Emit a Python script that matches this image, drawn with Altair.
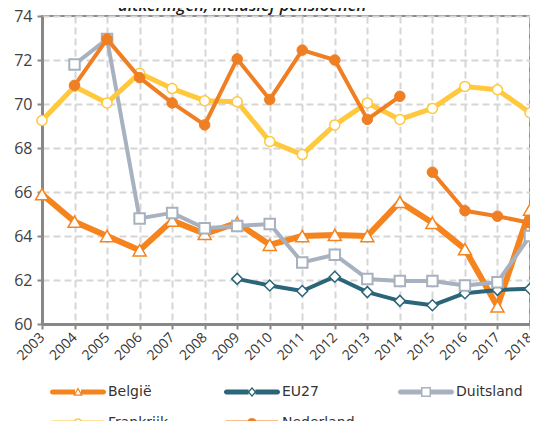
import altair as alt
import pandas as pd

years = list(range(2003, 2019))
series_names = ["België", "EU27", "Duitsland", "Frankrijk", "Nederland"]

belgie = [65.9, 64.65, 64.0, 63.35, 64.7, 64.1, 64.6, 63.6, 64.0, 64.05, 64.0, 65.55, 64.6, 63.4, 60.8, 65.2]
eu27 = [None, None, None, None, None, None, 62.05, 61.75, 61.5, 62.15, 61.45, 61.05, 60.85, 61.4, 61.55, 61.6]
duitsland = [None, 71.8, 72.95, 64.8, 65.05, 64.35, 64.45, 64.55, 62.8, 63.15, 62.05, 61.95, 61.95, 61.75, 61.9, 64.0]
frankrijk = [69.25, 70.8, 70.05, 71.4, 70.7, 70.15, 70.1, 68.3, 67.7, 69.05, 70.05, 69.3, 69.8, 70.8, 70.65, 69.6]
nederland = [None, 70.85, 72.95, 71.2, 70.05, 69.05, 72.05, 70.2, 72.45, 72.0, 69.3, 70.35, 66.9, 65.15, 64.9, 64.6]
nederland_break_after = 2014  # line is interrupted between 2014 and 2015

y_ticks = [60, 62, 64, 66, 68, 70, 72, 74]
title_text = "uitkeringen, inclusief pensioenen"

colors = ["#F5841F", "#2B6579", "#A7B1BF", "#FFC83D", "#EF7F22"]
line_widths = [6, 4, 4, 5, 4]
marker_shapes = ["triangle-up", "diamond", "square", "circle", "circle"]
marker_sizes = [170, 120, 110, 100, 110]
marker_fills = ["white", "white", "white", "white", "#EF7F22"]
marker_stroke_widths = [1.5, 1.5, 2, 1.5, 1]

# legend glyphs: thick line with a marker in the middle (filled paths, holes for open markers)
def bars(e):
    left = f"M-5.1,-0.5L-{e},-0.5L-{e},0.5L-5.1,0.5A0.5,0.5 0 0 1 -5.1,-0.5Z"
    right = f"M{e},-0.5L5.1,-0.5A0.5,0.5 0 0 1 5.1,0.5L{e},0.5Z"
    return left + right

tri = "M0,-0.95L0.95,0.75L-0.95,0.75ZM0,-0.44L-0.52,0.495L0.52,0.495Z"
dia = "M0,-1L0.9,0L0,1L-0.9,0ZM0,-0.6L-0.52,0L0,0.6L0.52,0Z"
sq = "M-1,-1L1,-1L1,1L-1,1ZM-0.7,-0.7L-0.7,0.7L0.7,0.7L0.7,-0.7Z"
circ = ("M0,-0.95A0.95,0.95 0 1 1 0,0.95A0.95,0.95 0 1 1 0,-0.95Z"
        "M0,-0.65A0.65,0.65 0 1 0 0,0.65A0.65,0.65 0 1 0 0,-0.65Z")
fcirc = "M0,-1A1,1 0 1 1 0,1A1,1 0 1 1 0,-1Z"
legend_paths = [bars(0.6) + tri, bars(0.7) + dia, bars(0.85) + sq, bars(0.8) + circ, bars(0.8) + fcirc]

rows = []
for name, vals in zip(series_names, [belgie, eu27, duitsland, frankrijk, nederland]):
    for yr, v in zip(years, vals):
        if v is None:
            continue
        seg = "b" if (name == "Nederland" and yr > nederland_break_after) else "a"
        rows.append({"year": yr, "series": name, "value": v, "seg": seg})
df = pd.DataFrame(rows)

x_enc = alt.X(
    "year:Q",
    scale=alt.Scale(domain=[2003, 2018], nice=False, zero=False),
    axis=alt.Axis(
        values=years, format="d", title=None, labelAngle=-45, labelAlign="right",
        labelBaseline="middle", labelPadding=6, labelFont="Open Sans", labelFontSize=14,
        labelColor="#333333", labelOverlap=False, labelFlush=False,
        domainColor="#888888", domainWidth=3, tickColor="#888888",
        tickWidth=2, tickSize=5, grid=True, gridColor="#D6D6D6", gridWidth=2, gridDash=[7, 4],
    ),
)
y_enc = alt.Y(
    "value:Q",
    scale=alt.Scale(domain=[60, 74], nice=False, zero=False),
    axis=alt.Axis(
        values=y_ticks, title=None, labelFont="Open Sans", labelFontSize=16,
        labelColor="#404040", labelPadding=5, labelOverlap=False, labelFlush=False,
        domainColor="#888888", domainWidth=3,
        tickColor="#888888", tickWidth=2, tickSize=5, grid=True, gridColor="#D6D6D6",
        gridWidth=2, gridDash=[7, 4],
    ),
)

base = alt.Chart(df)
layers = []
for i, name in enumerate(series_names):
    sub = base.transform_filter(alt.datum.series == name)
    layers.append(
        sub.mark_line(color=colors[i], strokeWidth=line_widths[i], strokeJoin="round")
        .encode(x=x_enc, y=y_enc, detail="seg:N")
    )
    layers.append(
        sub.mark_point(
            shape=marker_shapes[i], size=marker_sizes[i], filled=True,
            fill=marker_fills[i], stroke=colors[i], strokeWidth=marker_stroke_widths[i], opacity=1,
        ).encode(x=x_enc, y=y_enc)
    )

leg = alt.Legend(
    title=None, orient="none", legendX=6, legendY=369, columns=3, direction="horizontal",
    symbolSize=100, symbolOffset=23,
    symbolStrokeWidth=0, symbolOpacity=1, labelOffset=23, labelFont="DejaVu Sans",
    labelFontSize=14, labelColor="#333333", columnPadding=41, rowPadding=17, gridAlign="all",
)
legend_layer = base.mark_point(filled=True, opacity=0).encode(
    x=x_enc, y=y_enc,
    color=alt.Color("series:N", scale=alt.Scale(domain=series_names, range=colors), legend=leg),
    shape=alt.Shape("series:N", scale=alt.Scale(domain=series_names, range=legend_paths), legend=leg),
)
layers.append(legend_layer)

# partially visible heading above the plot (cut off at the top, as in the original)
title_layer = alt.Chart(pd.DataFrame({"t": [title_text]})).mark_text(
    align="left", baseline="alphabetic", font="Open Sans", fontSize=16.5, fontStyle="italic",
    fontWeight=600, color="#1A1A1A",
).encode(text="t:N", x=alt.value(76), y=alt.value(-5))
layers.append(title_layer)

chart = (
    alt.layer(*layers)
    .properties(
        width=488, height=308,
        autosize=alt.AutoSizeParams(type="none"),
        padding={"left": 34, "top": 8, "right": 0, "bottom": 97},
    )
    .configure_view(stroke="#8C8C8C", strokeWidth=2)
)

chart.save("out.html", embed_options={"renderer": "svg", "actions": False})
